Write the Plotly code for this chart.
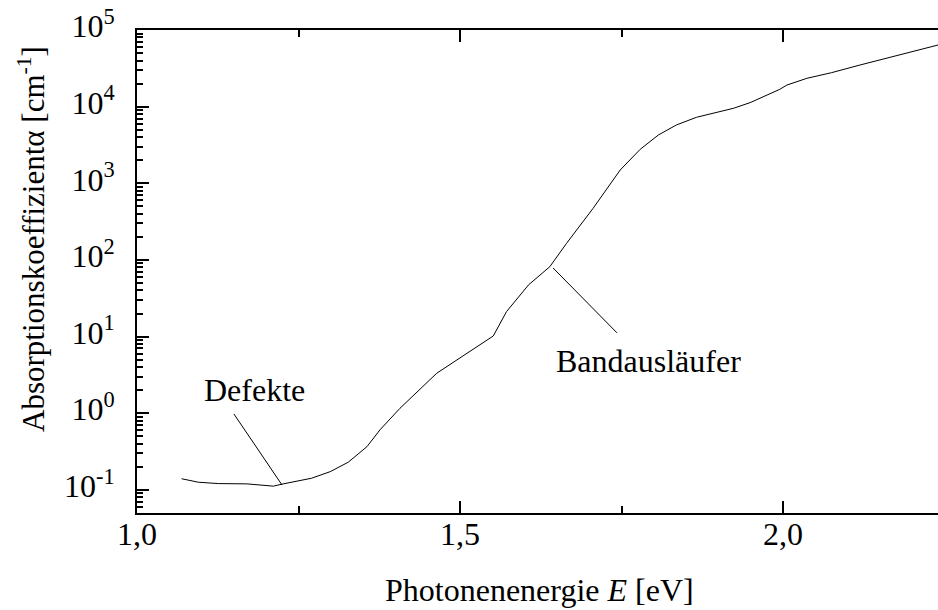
import plotly.graph_objects as go

# Data (photon energy in eV, absorption coefficient in cm^-1)
energy = [1.069, 1.095, 1.126, 1.170, 1.211, 1.2265, 1.270, 1.299, 1.327, 1.356,
          1.376, 1.407, 1.464, 1.500, 1.5515, 1.572, 1.606, 1.639, 1.665, 1.706,
          1.748, 1.779, 1.807, 1.835, 1.866, 1.923, 1.949, 1.995, 2.006, 2.037,
          2.075, 2.119, 2.197, 2.240]
alpha = [0.140, 0.126, 0.121, 0.120, 0.112, 0.120, 0.142, 0.173, 0.230, 0.367,
         0.606, 1.16, 3.33, 5.23, 10.2, 21.2, 47.2, 81.7, 165, 472,
         1493, 2780, 4266, 5770, 7260, 9510, 11270, 16830, 19140, 23440,
         27730, 34900, 52100, 63700]

# Leader lines for the labels
defekte_line_x = [1.150, 1.2245]
defekte_line_y = [0.98, 0.116]
band_line_x = [1.644, 1.743]
band_line_y = [78.7, 11.2]

x_tickvals = [1.0, 1.5, 2.0]
x_ticktext = ["1,0", "1,5", "2,0"]
x_minor = [1.25, 1.75, 2.25]
y_exps = [-1, 0, 1, 2, 3, 4, 5]
y_tickvals = [10.0 ** e for e in y_exps]
y_ticktext = ["10<sup>%s</sup>" % e for e in y_exps]
y_minor = [m * 10.0 ** e for e in range(-2, 5) for m in range(2, 10)]
y_minor = [v for v in y_minor if v >= 0.05]

FONT = "Liberation Serif"

fig = go.Figure()
fig.add_trace(go.Scatter(x=energy, y=alpha, mode="lines",
                         line=dict(color="black", width=1), showlegend=False))
fig.add_trace(go.Scatter(x=defekte_line_x, y=defekte_line_y, mode="lines",
                         line=dict(color="black", width=1), showlegend=False))
fig.add_trace(go.Scatter(x=band_line_x, y=band_line_y, mode="lines",
                         line=dict(color="black", width=1), showlegend=False))

fig.update_layout(
    width=938, height=610,
    margin=dict(l=137, r=0, t=30, b=97),
    paper_bgcolor="white", plot_bgcolor="white",
    font=dict(family=FONT, size=32, color="black"),
    xaxis=dict(
        range=[1.0, 2.2399], showgrid=False, zeroline=False,
        showline=True, linecolor="black", linewidth=2, mirror="ticks",
        ticks="inside", ticklen=12, tickwidth=1.5, tickcolor="black",
        tickmode="array", tickvals=x_tickvals, ticktext=x_ticktext,
        ticklabelstandoff=-8,
        minor=dict(tickmode="array", tickvals=x_minor, ticks="inside",
                   ticklen=7, tickwidth=1.5, tickcolor="black", showgrid=False),
    ),
    yaxis=dict(
        type="log", range=[-1.301, 5.0], showgrid=False, zeroline=False,
        showline=True, linecolor="black", linewidth=2, mirror=False,
        ticks="inside", ticklen=12, tickwidth=1.5, tickcolor="black",
        tickmode="array", tickvals=y_tickvals, ticktext=y_ticktext,
        ticklabelstandoff=14, ticklabelshift=-4,
        minor=dict(tickmode="array", tickvals=y_minor, ticks="inside",
                   ticklen=6, tickwidth=1.5, tickcolor="black", showgrid=False),
    ),
    annotations=[
        dict(text="Photonenenergie <i>E</i> [eV]", xref="paper", yref="paper",
             x=0.503, y=-0.1594, xanchor="center", yanchor="middle",
             showarrow=False, font=dict(size=32)),
        dict(text="Absorptionskoeffizient\u03b1 [cm<sup>-1</sup>]", xref="paper", yref="paper",
             x=-0.132, y=0.568, xanchor="center", yanchor="middle", textangle=-90,
             showarrow=False, font=dict(size=31)),
        dict(text="Defekte", xref="x", yref="y", x=1.1822, y=0.298,
             xanchor="center", yanchor="middle", showarrow=False, font=dict(size=32)),
        dict(text="Bandausläufer", xref="x", yref="y", x=1.7923, y=0.683,
             xanchor="center", yanchor="middle", showarrow=False, font=dict(size=32)),
    ],
)

fig.write_html("out.html")
